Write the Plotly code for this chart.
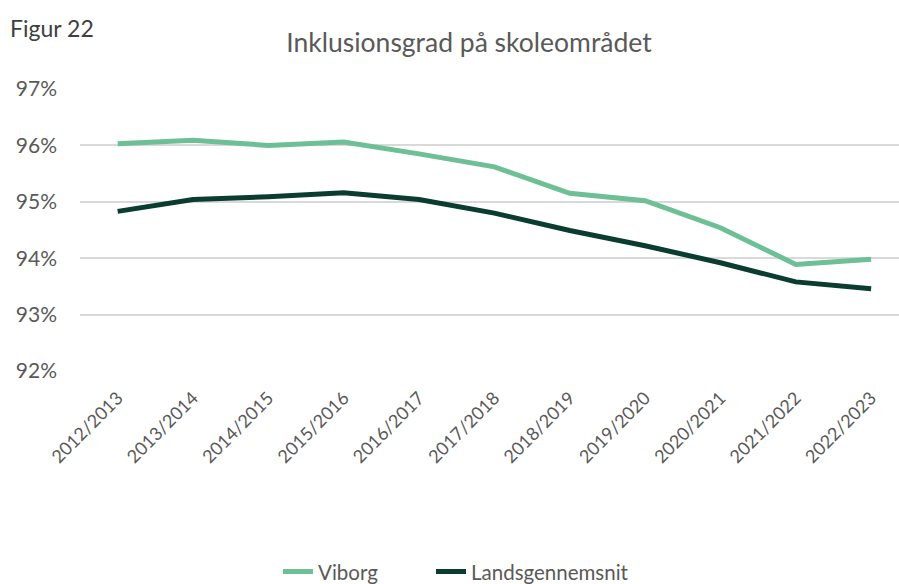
import plotly.graph_objects as go

categories = ["2012/2013", "2013/2014", "2014/2015", "2015/2016", "2016/2017", "2017/2018",
              "2018/2019", "2019/2020", "2020/2021", "2021/2022", "2022/2023"]
viborg = [0.9603, 0.9609, 0.9600, 0.9606, 0.9585, 0.9562, 0.9515, 0.9502, 0.9454, 0.9389, 0.9398]
lands = [0.9483, 0.9504, 0.9509, 0.9516, 0.9504, 0.9480, 0.9449, 0.9422, 0.9392, 0.9358, 0.9346]
yticks = [0.92, 0.93, 0.94, 0.95, 0.96, 0.97]

font_family = "Lato, Open Sans, sans-serif"
fig = go.Figure()
fig.add_trace(go.Scatter(x=categories, y=viborg, mode="lines", name="Viborg",
                         line=dict(color="#6dbf96", width=5), legend="legend"))
fig.add_trace(go.Scatter(x=categories, y=lands, mode="lines", name="Landsgennemsnit",
                         line=dict(color="#0a3d2f", width=5), legend="legend2"))

legend_y = -(571 - 370.7) / 281.4
fig.update_layout(
    width=899, height=584,
    margin=dict(l=80, r=0, t=89, b=213, autoexpand=False),
    paper_bgcolor="white", plot_bgcolor="white",
    font=dict(family=font_family, color="#595959", size=18),
    title=dict(text="Inklusionsgrad på skoleområdet", x=469 / 899, xanchor="center",
               y=1 - 43 / 584, yanchor="middle", yref="container",
               font=dict(size=26.5, color="#595959", family=font_family)),
    showlegend=True,
    legend=dict(orientation="h", x=(278 - 80) / 819, xanchor="left",
                y=legend_y, yanchor="middle",
                font=dict(size=20.5, color="#595959")),
    legend2=dict(orientation="h", x=(431 - 80) / 819, xanchor="left",
                 y=legend_y, yanchor="middle",
                 font=dict(size=20.5, color="#595959")),
    annotations=[dict(text="Figur 22", xref="paper", yref="paper", x=-72 / 819, y=1 + (89.3 - 28) / 281.4,
                      xanchor="left", yanchor="middle", showarrow=False,
                      font=dict(size=23, color="#404040", family=font_family))],
)
fig.update_xaxes(type="category", range=[-0.5, 10.37], showgrid=False, showline=False,
                 tickangle=-45, ticks="", ticklabelstandoff=12, automargin=False,
                 tickfont=dict(size=18, color="#595959"))
fig.update_yaxes(range=[0.92, 0.97], tickvals=yticks, tickformat=".0%",
                 showgrid=True, gridcolor="#d9d9d9", gridwidth=1.5, zeroline=False,
                 showline=False, ticks="", ticklabelstandoff=22, automargin=False,
                 tickfont=dict(size=21, color="#595959"))
fig.write_html("out.html", config={"displayModeBar": False},
               post_script="document.body.style.margin='0';document.body.style.overflow='hidden';")
